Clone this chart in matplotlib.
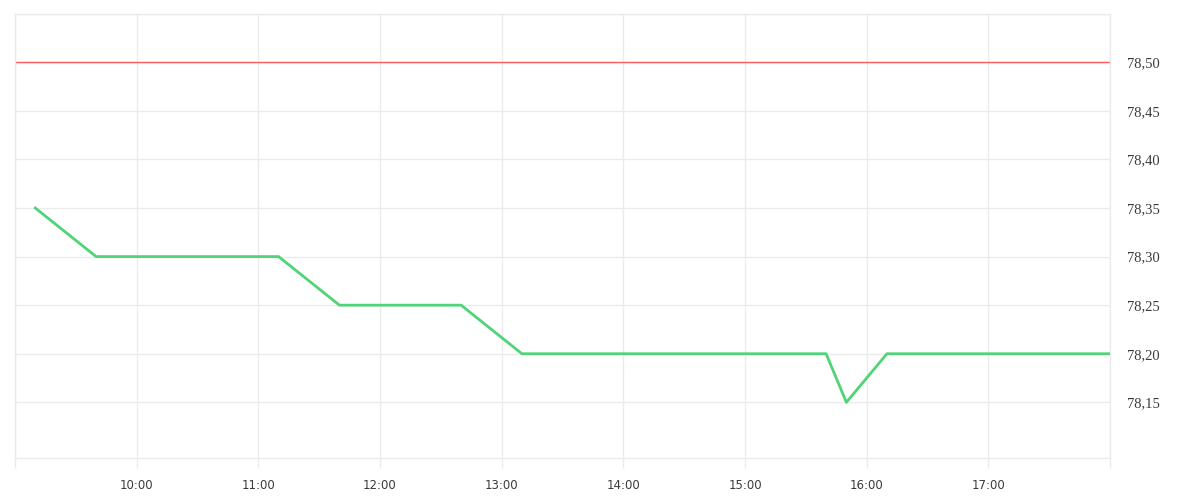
import datetime as dt
import matplotlib
matplotlib.use('Agg')
import matplotlib.pyplot as plt

# price series (time, value)
times = ["09:10", "09:40", "11:10", "11:40", "12:40", "13:10",
         "15:40", "15:50", "16:10", "18:00"]
prices = [78.35, 78.30, 78.30, 78.25, 78.25, 78.20,
          78.20, 78.15, 78.20, 78.20]
ref_level = 78.50
y_ticks = [78.15, 78.20, 78.25, 78.30, 78.35, 78.40, 78.45, 78.50]
x_hours = list(range(9, 19))
x_labels = ["", "10:00", "11:00", "12:00", "13:00", "14:00",
            "15:00", "16:00", "17:00", ""]


def to_dt(s):
    h, m = s.split(":")
    return dt.datetime(2024, 1, 1, int(h), int(m))


x = [to_dt(t) for t in times]
grid_c = '#ebebeb'

fig = plt.figure(figsize=(12, 5), dpi=100)
ax = fig.add_axes([0.0125, 0.0834, 0.9125, 0.8892])

ax.axhline(ref_level, color='#ff5c5c', linewidth=1, zorder=2)
ax.plot(x, prices, color='#4fd477', linewidth=2, zorder=3)

ax.set_xlim(dt.datetime(2024, 1, 1, 9, 0), dt.datetime(2024, 1, 1, 18, 0))
ax.set_ylim(78.0924, 78.55)

ax.set_xticks([dt.datetime(2024, 1, 1, h, 0) for h in x_hours])
ax.set_xticklabels(x_labels, fontsize=8.5, color='#3a3a3a', family='DejaVu Sans')
ax.set_yticks(y_ticks + [78.55])
ax.set_yticklabels([f"{v:.2f}".replace(".", ",") for v in y_ticks] + [""],
                   fontsize=10.5, color='#3a3a3a', family='Liberation Serif')
ax.yaxis.tick_right()

ax.tick_params(axis='x', direction='out', length=7.2, width=1, color=grid_c, pad=8)
ax.tick_params(axis='y', length=0, pad=12.5)
ax.grid(True, color=grid_c, linewidth=1, zorder=0)
for sp in ax.spines.values():
    sp.set_color(grid_c)
    sp.set_linewidth(1)

fig.savefig('out.png', dpi=100, facecolor='white')
